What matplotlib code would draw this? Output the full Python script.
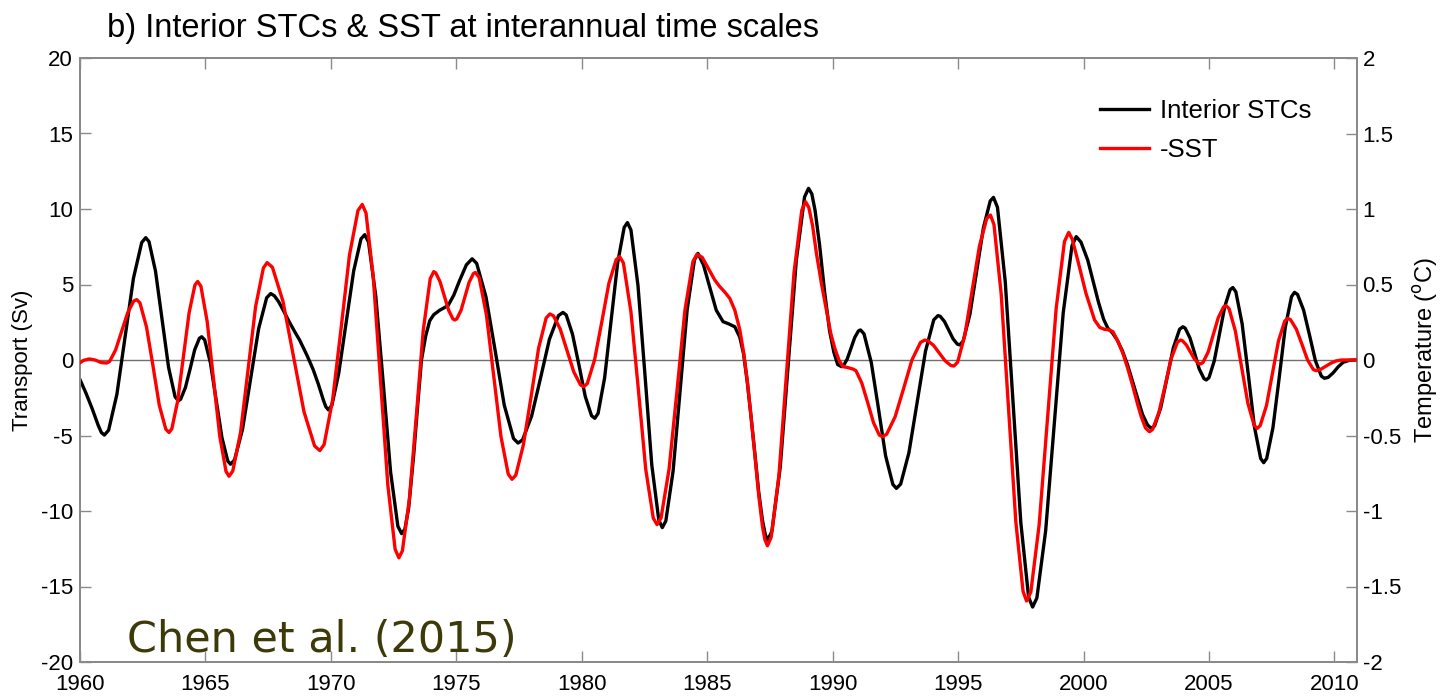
import numpy as np
import matplotlib
matplotlib.use('Agg')
import matplotlib.pyplot as plt

# Interior STCs transport (Sv)
stcYear=[1960.00,1960.24,1960.48,1960.72,1960.85,1960.97,1961.14,1961.47,1961.80,1962.13,
	1962.46,1962.62,1962.75,1963.01,1963.27,1963.53,1963.79,1963.92,1964.01,1964.20,
	1964.39,1964.57,1964.76,1964.85,1964.97,1965.20,1965.43,1965.66,1965.89,1966.00,
	1966.16,1966.48,1966.80,1967.12,1967.44,1967.60,1967.75,1967.92,1968.10,1968.35,
	1968.55,1968.76,1969.05,1969.30,1969.50,1969.70,1969.80,1969.90,1970.04,1970.31,
	1970.61,1970.91,1971.20,1971.35,1971.50,1971.79,1972.09,1972.38,1972.67,1972.82,
	1972.95,1973.10,1973.30,1973.45,1973.61,1973.78,1973.94,1974.10,1974.34,1974.67,
	1974.90,1975.14,1975.40,1975.63,1975.81,1976.18,1976.55,1976.91,1977.28,1977.46,
	1977.64,1978.00,1978.36,1978.71,1979.07,1979.25,1979.38,1979.63,1979.89,1980.14,
	1980.39,1980.52,1980.65,1980.91,1981.17,1981.43,1981.69,1981.82,1981.96,1982.24,
	1982.52,1982.79,1983.07,1983.21,1983.35,1983.64,1983.92,1984.20,1984.49,1984.63,
	1984.85,1985.06,1985.36,1985.63,1985.85,1986.10,1986.30,1986.45,1986.60,1986.75,
	1986.90,1987.05,1987.20,1987.32,1987.42,1987.58,1987.91,1988.23,1988.55,1988.88,
	1989.04,1989.17,1989.30,1989.48,1989.68,1989.88,1990.05,1990.20,1990.35,1990.43,
	1990.58,1990.73,1990.88,1991.03,1991.11,1991.25,1991.54,1991.83,1992.11,1992.40,
	1992.54,1992.71,1993.04,1993.37,1993.70,1994.03,1994.20,1994.29,1994.46,1994.63,
	1994.80,1994.97,1995.06,1995.20,1995.47,1995.74,1996.01,1996.28,1996.41,1996.57,
	1996.88,1997.19,1997.50,1997.81,1997.97,1998.14,1998.49,1998.84,1999.19,1999.54,
	1999.71,1999.90,2000.17,2000.40,2000.60,2000.80,2000.97,2001.15,2001.35,2001.55,
	2001.75,2001.95,2002.15,2002.35,2002.55,2002.70,2002.83,2003.08,2003.33,2003.58,
	2003.83,2003.96,2004.05,2004.24,2004.43,2004.61,2004.80,2004.89,2005.00,2005.21,
	2005.42,2005.63,2005.84,2005.95,2006.07,2006.32,2006.57,2006.81,2007.06,2007.18,
	2007.30,2007.55,2007.80,2008.04,2008.29,2008.41,2008.53,2008.77,2009.01,2009.24,
	2009.48,2009.60,2009.75,2009.95,2010.15,2010.35,2010.60,2010.92]
stcSv=[-1.30,-2.20,-3.20,-4.30,-4.80,-4.97,-4.65,-2.28,1.57,5.41,
	7.78,8.10,7.84,5.88,2.70,-0.48,-2.44,-2.70,-2.60,-1.83,
	-0.58,0.67,1.44,1.54,1.33,-0.20,-2.68,-5.16,-6.69,-6.90,
	-6.62,-4.57,-1.25,2.07,4.12,4.40,4.25,3.85,3.30,2.50,
	1.90,1.30,0.30,-0.66,-1.60,-2.65,-3.10,-3.30,-3.00,-0.91,
	2.50,5.91,8.02,8.30,7.81,4.22,-1.60,-7.42,-11.01,-11.50,
	-11.20,-9.80,-6.30,-3.20,0.00,1.60,2.60,3.00,3.30,3.60,
	4.30,5.30,6.30,6.70,6.40,4.19,0.60,-2.99,-5.20,-5.50,
	-5.29,-3.72,-1.17,1.37,2.94,3.15,2.98,1.71,-0.35,-2.42,
	-3.69,-3.86,-3.54,-1.19,2.62,6.43,8.78,9.10,8.61,4.94,
	-1.00,-6.94,-10.60,-11.10,-10.66,-7.36,-2.02,3.32,6.62,7.06,
	6.30,5.07,3.30,2.54,2.40,2.20,1.50,0.40,-1.50,-3.80,
	-6.20,-8.70,-10.60,-11.60,-11.90,-11.33,-7.11,-0.26,6.58,10.80,
	11.37,11.00,9.90,7.60,4.50,1.90,0.50,-0.30,-0.44,-0.38,
	0.06,0.78,1.49,1.93,1.99,1.73,-0.17,-3.26,-6.34,-8.24,
	-8.50,-8.22,-6.14,-2.78,0.58,2.66,2.94,2.89,2.54,1.97,
	1.40,1.05,1.00,1.24,3.01,5.89,8.76,10.53,10.77,10.11,
	5.18,-2.80,-10.77,-15.70,-16.36,-15.76,-11.31,-4.09,3.12,7.57,
	8.17,7.80,6.60,5.10,3.80,2.70,2.10,1.80,1.30,0.60,
	-0.30,-1.40,-2.50,-3.60,-4.30,-4.53,-4.37,-3.14,-1.16,0.81,
	2.04,2.20,2.11,1.47,0.44,-0.59,-1.23,-1.32,-1.17,-0.06,
	1.74,3.54,4.65,4.80,4.52,2.41,-1.00,-4.41,-6.52,-6.80,
	-6.52,-4.48,-1.16,2.16,4.20,4.48,4.34,3.31,1.63,-0.04,
	-1.07,-1.21,-1.15,-0.85,-0.45,-0.15,-0.02,0.00]

# -SST (degC)
sstYear=[1960.00,1960.15,1960.37,1960.60,1960.85,1961.06,1961.18,1961.42,1961.66,1961.90,
	1962.14,1962.26,1962.39,1962.65,1962.91,1963.16,1963.42,1963.55,1963.66,1963.89,
	1964.12,1964.35,1964.58,1964.69,1964.82,1965.07,1965.32,1965.57,1965.82,1965.94,
	1966.09,1966.40,1966.70,1967.00,1967.31,1967.46,1967.67,1968.09,1968.51,1968.93,
	1969.35,1969.56,1969.73,1970.07,1970.41,1970.74,1971.08,1971.25,1971.40,1971.69,
	1971.98,1972.27,1972.56,1972.71,1972.85,1973.13,1973.41,1973.68,1973.96,1974.10,
	1974.18,1974.35,1974.52,1974.69,1974.86,1974.94,1975.02,1975.19,1975.35,1975.51,
	1975.68,1975.76,1975.91,1976.20,1976.49,1976.78,1977.07,1977.22,1977.37,1977.67,
	1977.98,1978.28,1978.58,1978.73,1978.87,1979.14,1979.41,1979.68,1979.95,1980.08,
	1980.22,1980.51,1980.80,1981.08,1981.37,1981.51,1981.66,1981.96,1982.26,1982.55,
	1982.85,1983.00,1983.16,1983.48,1983.80,1984.11,1984.43,1984.59,1984.80,1985.10,
	1985.30,1985.50,1985.70,1985.90,1986.10,1986.30,1986.45,1986.60,1986.75,1986.90,
	1987.05,1987.20,1987.30,1987.40,1987.55,1987.86,1988.16,1988.46,1988.77,1988.92,
	1989.05,1989.20,1989.35,1989.55,1989.75,1989.92,1990.08,1990.25,1990.41,1990.60,
	1990.81,1990.93,1991.16,1991.40,1991.63,1991.86,1991.98,1992.15,1992.49,1992.83,
	1993.16,1993.50,1993.67,1993.79,1994.02,1994.25,1994.48,1994.71,1994.83,1994.98,
	1995.27,1995.56,1995.85,1996.14,1996.29,1996.43,1996.72,1997.01,1997.30,1997.59,
	1997.73,1997.90,1998.23,1998.57,1998.91,1999.24,1999.41,1999.55,1999.77,2000.10,
	2000.44,2000.65,2000.84,2001.00,2001.17,2001.35,2001.57,2001.77,2001.97,2002.15,
	2002.30,2002.47,2002.63,2002.75,2003.00,2003.25,2003.49,2003.74,2003.86,2003.94,
	2004.10,2004.26,2004.42,2004.58,2004.66,2004.76,2004.97,2005.17,2005.37,2005.58,
	2005.68,2005.80,2006.05,2006.30,2006.55,2006.80,2006.92,2007.04,2007.29,2007.53,
	2007.77,2008.02,2008.14,2008.25,2008.48,2008.71,2008.93,2009.16,2009.27,2009.45,
	2009.65,2009.85,2010.05,2010.27,2010.60,2010.92]
sstC=[-0.018,-0.002,0.007,0.000,-0.017,-0.020,-0.010,0.067,0.190,0.313,
	0.390,0.400,0.378,0.219,-0.040,-0.299,-0.458,-0.480,-0.456,-0.274,
	0.020,0.314,0.496,0.520,0.488,0.254,-0.125,-0.504,-0.738,-0.770,
	-0.735,-0.479,-0.062,0.354,0.610,0.645,0.614,0.389,0.022,-0.344,
	-0.569,-0.600,-0.560,-0.264,0.215,0.694,0.990,1.030,0.973,0.548,
	-0.140,-0.828,-1.253,-1.310,-1.264,-0.920,-0.362,0.195,0.539,0.585,
	0.577,0.519,0.425,0.331,0.273,0.265,0.273,0.330,0.423,0.515,
	0.572,0.580,0.546,0.298,-0.105,-0.508,-0.756,-0.790,-0.763,-0.564,
	-0.242,0.079,0.278,0.305,0.293,0.206,0.064,-0.078,-0.165,-0.177,
	-0.156,0.001,0.254,0.507,0.664,0.685,0.642,0.319,-0.203,-0.724,
	-1.047,-1.090,-1.046,-0.722,-0.197,0.327,0.651,0.700,0.680,0.590,
	0.530,0.486,0.450,0.408,0.330,0.200,0.050,-0.140,-0.380,-0.630,
	-0.890,-1.100,-1.190,-1.230,-1.174,-0.761,-0.091,0.579,0.992,1.048,
	1.010,0.890,0.710,0.510,0.330,0.180,0.080,0.000,-0.044,-0.050,
	-0.060,-0.071,-0.152,-0.284,-0.416,-0.497,-0.508,-0.492,-0.376,-0.188,
	0.000,0.116,0.132,0.128,0.097,0.046,-0.005,-0.036,-0.040,-0.015,
	0.166,0.460,0.754,0.936,0.960,0.897,0.433,-0.318,-1.069,-1.533,
	-1.596,-1.536,-1.093,-0.376,0.342,0.785,0.845,0.800,0.660,0.440,
	0.265,0.215,0.203,0.200,0.188,0.130,0.044,-0.060,-0.177,-0.290,
	-0.375,-0.450,-0.475,-0.460,-0.350,-0.171,0.007,0.117,0.132,0.128,
	0.099,0.053,0.007,-0.022,-0.026,-0.017,0.054,0.167,0.280,0.351,
	0.360,0.340,0.193,-0.047,-0.286,-0.433,-0.453,-0.435,-0.303,-0.088,
	0.126,0.258,0.276,0.267,0.205,0.102,0.000,-0.063,-0.071,-0.062,
	-0.042,-0.022,-0.007,0.000,0.000,0.000]

xTicks=[1960,1965,1970,1975,1980,1985,1990,1995,2000,2005,2010]
leftTicks=[-20,-15,-10,-5,0,5,10,15,20]
rightTicks=[-2,-1.5,-1,-0.5,0,0.5,1,1.5,2]
rightTickLabels=['-2','-1.5','-1','-0.5','0','0.5','1','1.5','2']

matplotlib.rcParams['font.family']='sans-serif'
matplotlib.rcParams['font.sans-serif']='Liberation Sans'
matplotlib.rcParams['axes.unicode_minus']=False
plt.rcParams.update({'font.size':16})

W,H=1441,697
fig=plt.figure(figsize=(W/100,H/100),dpi=100)
ax=fig.add_axes([80/W,1-662/H,(1357-80)/W,(662-58)/H])
ax.axhline(0,color='#707070',linewidth=1.0,zorder=1)
l1,=ax.plot(stcYear,stcSv,color='black',linewidth=2.4,label='Interior STCs',zorder=3)
ax.set_xlim(1960,2010.9)
ax.set_ylim(-20,20)
ax.set_xticks(xTicks)
ax.set_yticks(leftTicks)

ax2=ax.twinx()
l2,=ax2.plot(sstYear,sstC,color='red',linewidth=2.4,label='-SST',zorder=3)
ax2.set_ylim(-2,2)
ax2.set_yticks(rightTicks)
ax2.set_yticklabels(rightTickLabels)

spineColor='#8a8a8a'
for a in (ax,ax2):
	for s in a.spines.values():
		s.set_color(spineColor)
		s.set_linewidth(1.4)
ax.tick_params('both',direction='in',length=8,width=1,color=spineColor,labelsize=16,top=True)
ax.tick_params('x',pad=9)
ax.tick_params('y',pad=5)
ax2.tick_params('y',direction='in',length=8,width=1,color=spineColor,labelsize=16,pad=4)

fig.text(23/W,1-360/H,'Transport (Sv)',rotation=90,ha='center',va='center',fontsize=16)
fig.text(1426/W,1-350/H,r'Temperature ($^{\rm o}$C)',rotation=90,ha='center',va='center',fontsize=17)
fig.text(107/W,1-28/H,'b) Interior STCs & SST at interannual time scales',ha='left',va='center',fontsize=23.5)

ax2.legend([l1,l2],['Interior STCs','-SST'],loc='upper left',bbox_to_anchor=(1087/W,1-86/H),
	bbox_transform=fig.transFigure,frameon=False,borderpad=0,handlelength=1.9,
	handletextpad=0.45,labelspacing=0.6,fontsize=18.5)

fig.text(127/W,1-652/H,'Chen et al. (2015)',ha='left',va='baseline',fontsize=31,
	color='#3b3a08',family='DejaVu Sans')

plt.savefig('out.png',dpi=100)
plt.close(fig)
